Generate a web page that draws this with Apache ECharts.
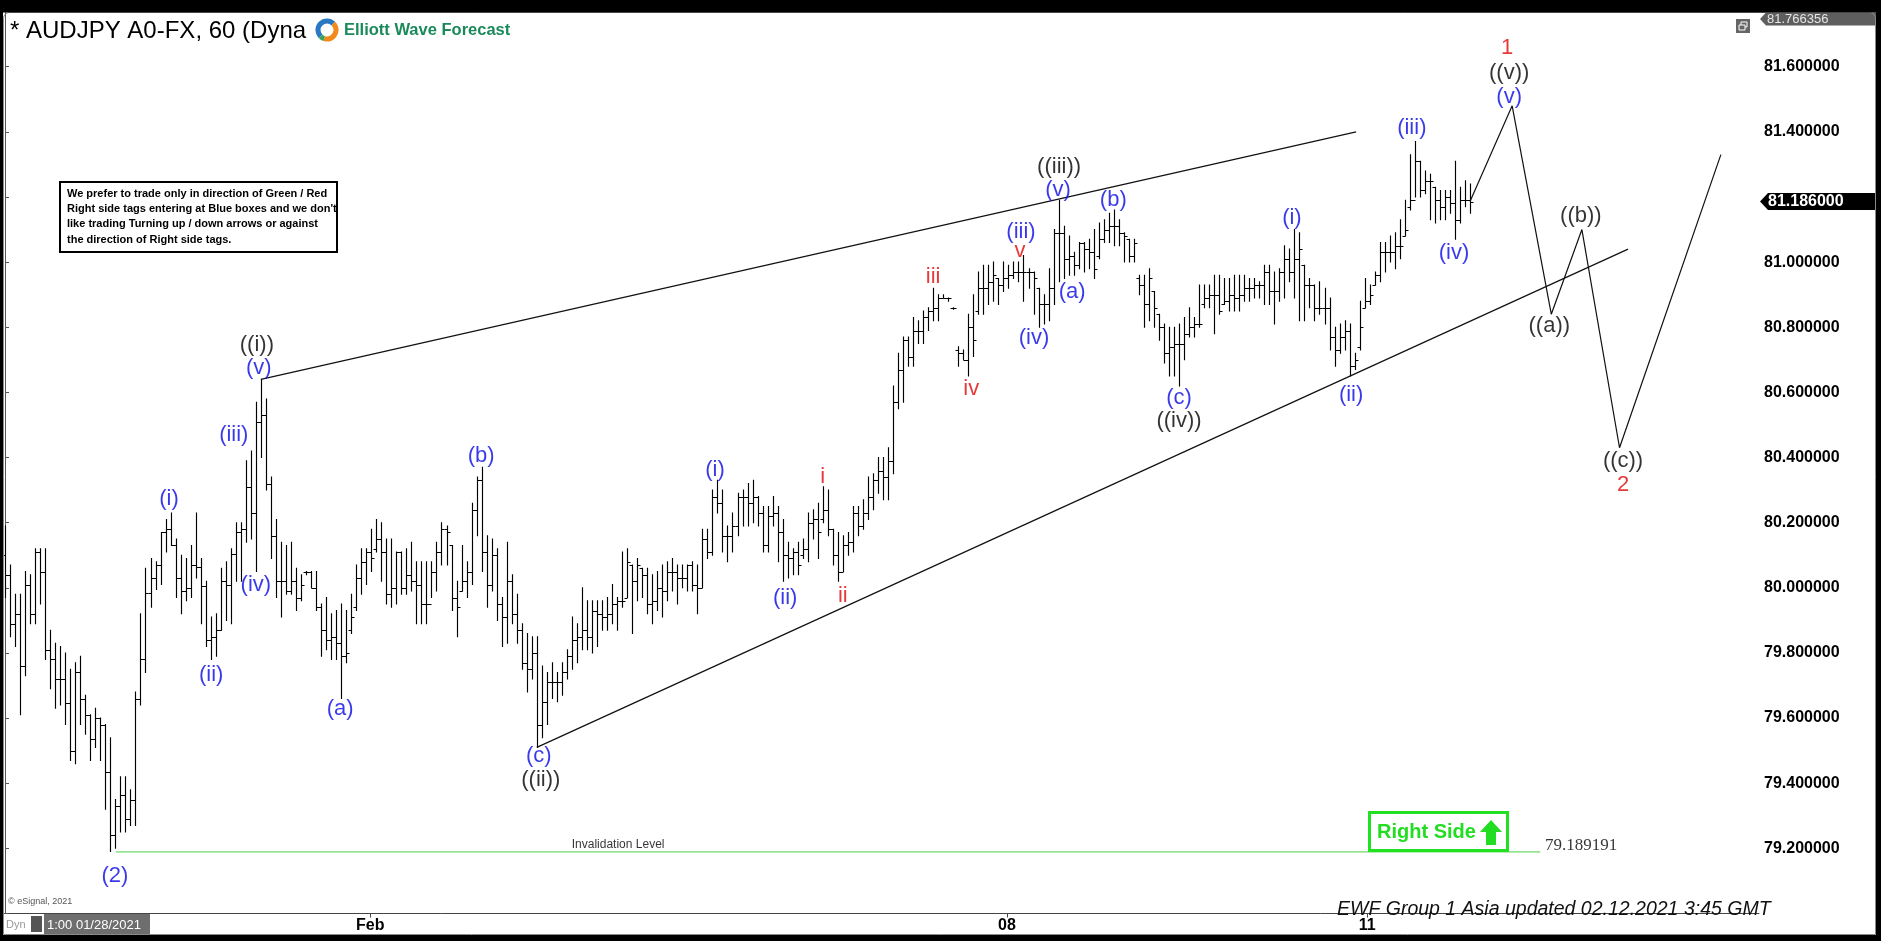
<!DOCTYPE html>
<html><head><meta charset="utf-8">
<script src="https://cdn.jsdelivr.net/npm/echarts@6/dist/echarts.min.js"></script>
<style>html,body{margin:0;padding:0;background:#fff;overflow:hidden}#c{width:1881px;height:941px}</style>
</head><body><div id="c"></div><script>
// ---- OHLC data (hourly bars) ----
const opens = [
80.10,80.04,79.89,79.92,79.76,80.01,79.92,80.11,80.05,79.81,
79.78,79.72,79.72,79.645,79.50,79.74,79.66,79.61,79.535,79.60,
79.58,79.435,79.24,79.33,79.365,79.29,79.35,79.66,79.78,79.985,
80.03,80.07,80.17,80.18,80.13,80.03,79.99,80.00,80.07,80.065,
80.005,79.84,79.85,79.87,80.02,80.01,80.105,80.17,80.18,80.31,
80.23,80.51,80.53,80.32,80.16,80.02,80.02,79.99,80.02,79.97,
80.05,80.05,80.00,79.94,79.87,79.84,79.85,79.83,79.79,79.87,
79.94,80.03,80.08,80.11,80.12,80.15,80.11,79.98,80.00,80.11,
80.00,80.04,80.02,80.01,79.95,79.95,80.05,80.11,80.18,80.13,
79.97,79.99,80.02,80.05,80.24,80.33,80.11,80.01,80.10,79.95,
79.91,80.02,79.92,79.87,79.77,79.75,79.80,79.58,79.65,79.71,
79.71,79.71,79.74,79.79,79.84,79.85,79.87,79.85,79.93,79.92,
79.91,79.92,79.95,79.96,79.97,80.07,80.02,80.06,80.04,79.95,
79.96,80.00,79.99,80.05,80.05,80.03,80.03,80.07,80.01,80.00,
80.15,80.11,80.28,80.26,80.16,80.16,80.19,80.28,80.28,80.26,
80.28,80.23,80.13,80.22,80.23,80.17,80.10,80.09,80.11,80.10,
80.12,80.20,80.21,80.21,80.24,80.18,80.10,80.05,80.13,80.14,
80.23,80.19,80.23,80.28,80.33,80.36,80.34,80.39,80.57,80.67,
80.76,80.71,80.79,80.79,80.83,80.85,80.86,80.89,80.89,80.86,
80.73,80.72,80.70,80.80,80.85,80.92,80.92,80.94,80.95,80.93,
80.95,80.96,80.97,80.97,80.97,80.97,80.92,80.87,80.87,80.92,
81.09,81.09,81.01,81.02,80.99,81.06,81.04,81.03,81.02,81.07,
81.10,81.11,81.11,81.09,81.07,81.02,80.95,80.93,80.87,80.91,
80.84,80.80,80.72,80.74,80.75,80.75,80.78,80.80,80.81,80.87,
80.89,80.90,80.90,80.87,80.88,80.90,80.89,80.90,80.92,80.92,
80.93,80.93,80.97,80.91,80.91,80.97,81.01,80.97,81.01,80.99,
80.93,80.93,80.86,80.86,80.86,80.77,80.73,80.77,80.79,80.68,
80.74,80.86,80.88,80.93,80.96,81.03,81.03,81.03,81.05,81.08,
81.17,81.19,81.31,81.22,81.25,81.23,81.19,81.17,81.20,81.18,
81.13,81.19,81.19];
const highs = [
80.19,80.07,79.98,79.98,80.05,80.04,80.12,80.12,80.12,79.87,
79.83,79.82,79.80,79.75,79.77,79.79,79.67,79.61,79.63,79.60,
79.58,79.54,79.35,79.42,79.42,79.38,79.68,79.92,80.06,80.09,
80.08,80.17,80.21,80.23,80.15,80.10,80.09,80.13,80.23,80.09,
80.02,79.91,79.92,80.06,80.08,80.12,80.20,80.20,80.39,80.42,
80.57,80.64,80.58,80.34,80.21,80.14,80.13,80.14,80.06,80.04,
80.05,80.05,80.05,79.95,79.97,79.92,79.93,79.95,79.93,79.98,
80.07,80.12,80.12,80.18,80.21,80.20,80.15,80.15,80.11,80.11,
80.12,80.14,80.08,80.08,80.08,80.08,80.14,80.20,80.19,80.13,
80.02,80.13,80.08,80.26,80.34,80.37,80.16,80.15,80.12,79.97,
80.14,80.04,79.98,79.89,79.86,79.85,79.85,79.76,79.74,79.77,
79.74,79.77,79.81,79.91,79.89,80.00,79.96,79.96,79.96,79.96,
79.97,80.01,79.97,80.11,80.12,80.07,80.09,80.06,80.06,80.04,
80.05,80.07,80.08,80.09,80.07,80.07,80.07,80.08,80.07,80.18,
80.18,80.30,80.33,80.30,80.19,80.23,80.29,80.30,80.32,80.33,
80.28,80.25,80.25,80.28,80.25,80.21,80.14,80.12,80.14,80.15,
80.23,80.24,80.26,80.31,80.30,80.18,80.17,80.16,80.17,80.25,
80.25,80.27,80.34,80.35,80.40,80.40,80.43,80.62,80.72,80.77,
80.77,80.83,80.82,80.85,80.86,80.92,80.90,80.90,80.89,80.86,
80.74,80.73,80.84,80.90,80.97,80.99,80.99,81.00,80.95,81.00,
80.99,81.00,81.00,81.02,80.98,80.97,80.92,80.90,80.98,81.10,
81.19,81.11,81.08,81.03,81.06,81.06,81.07,81.10,81.12,81.13,
81.15,81.16,81.13,81.09,81.07,81.07,80.96,80.96,80.98,80.91,
80.84,80.81,80.80,80.80,80.81,80.83,80.86,80.83,80.93,80.93,
80.93,80.96,80.96,80.95,80.95,80.96,80.96,80.96,80.95,80.95,
80.94,80.99,80.99,80.97,80.98,81.05,81.04,81.10,81.09,80.99,
80.95,80.93,80.94,80.92,80.89,80.80,80.81,80.82,80.81,80.72,
80.88,80.95,80.93,80.97,81.06,81.06,81.08,81.09,81.13,81.19,
81.33,81.37,81.31,81.28,81.27,81.23,81.22,81.22,81.22,81.31,
81.23,81.25,81.24];
const lows = [
79.97,79.85,79.82,79.61,79.73,79.89,79.89,79.95,79.78,79.69,
79.63,79.64,79.58,79.47,79.46,79.58,79.55,79.47,79.51,79.47,
79.32,79.19,79.20,79.25,79.25,79.27,79.27,79.64,79.74,79.94,
79.995,80.01,80.11,80.13,79.97,79.92,79.96,79.97,80.03,79.89,
79.82,79.78,79.79,79.87,79.90,79.89,80.02,80.02,80.14,80.15,
80.05,80.40,80.30,80.09,79.97,79.91,79.98,79.98,79.93,79.96,
80.04,80.00,79.93,79.79,79.81,79.78,79.78,79.66,79.77,79.86,
79.93,79.98,80.01,80.05,80.11,80.02,79.95,79.94,79.95,79.98,
79.98,79.99,79.89,79.89,79.89,79.97,79.99,80.07,80.07,79.93,
79.85,79.99,79.97,80.01,80.16,80.05,79.94,79.99,79.90,79.82,
79.83,79.89,79.83,79.75,79.68,79.72,79.51,79.54,79.58,79.66,
79.65,79.67,79.72,79.75,79.77,79.81,79.81,79.80,79.82,79.87,
79.87,79.89,79.87,79.94,79.97,79.86,79.96,79.97,79.92,79.89,
79.93,79.91,79.96,79.99,79.95,80.00,79.99,79.99,79.92,80.00,
80.09,80.10,80.23,80.11,80.08,80.11,80.16,80.19,80.19,80.20,
80.19,80.11,80.11,80.19,80.08,80.02,80.03,80.04,80.04,80.09,
80.08,80.15,80.09,80.20,80.16,80.07,80.02,80.05,80.10,80.11,
80.16,80.18,80.21,80.24,80.29,80.27,80.27,80.35,80.55,80.57,
80.68,80.68,80.75,80.75,80.79,80.82,80.82,80.89,80.88,80.855,
80.68,80.70,80.65,80.71,80.84,80.84,80.87,80.88,80.87,80.91,
80.92,80.95,80.94,80.88,80.92,80.84,80.80,80.81,80.82,80.87,
80.94,80.95,80.96,80.96,80.98,80.97,80.98,80.95,81.01,81.06,
81.06,81.05,81.05,81.00,81.00,81.00,80.90,80.80,80.82,80.80,
80.76,80.69,80.65,80.65,80.62,80.70,80.77,80.77,80.80,80.86,
80.86,80.78,80.84,80.87,80.85,80.85,80.85,80.88,80.88,80.89,
80.89,80.87,80.87,80.81,80.88,80.89,80.94,80.89,80.82,80.82,
80.86,80.82,80.84,80.81,80.73,80.68,80.72,80.73,80.65,80.67,
80.73,80.86,80.87,80.93,80.94,80.97,81.00,80.98,81.01,81.08,
81.16,81.20,81.20,81.21,81.13,81.12,81.13,81.13,81.15,81.07,
81.12,81.17,81.15];
const closes = [
80.04,79.89,79.92,79.76,80.01,79.92,80.11,80.05,79.81,79.78,
79.72,79.72,79.645,79.50,79.74,79.66,79.61,79.535,79.60,79.58,
79.435,79.24,79.33,79.365,79.29,79.35,79.66,79.78,79.985,80.03,
80.07,80.17,80.18,80.13,80.03,79.99,80.00,80.07,80.065,80.005,
79.84,79.85,79.87,80.02,80.01,80.105,80.17,80.18,80.31,80.23,
80.51,80.53,80.32,80.16,80.02,80.02,79.99,80.02,79.97,80.01,
80.05,80.00,79.94,79.87,79.84,79.85,79.83,79.79,79.80,79.91,
80.03,80.08,80.11,80.09,80.15,80.11,79.98,80.00,80.11,80.00,
80.04,80.02,80.01,79.95,79.95,80.05,80.11,80.18,80.17,79.97,
79.94,80.02,80.05,80.24,80.33,80.11,80.01,80.10,79.95,79.91,
80.02,79.92,79.87,79.77,79.75,79.80,79.58,79.65,79.71,79.71,
79.71,79.74,79.79,79.84,79.85,79.87,79.85,79.93,79.92,79.91,
79.92,79.95,79.96,79.96,80.08,80.02,80.07,80.04,79.95,79.96,
80.00,79.99,80.05,80.05,80.03,80.03,80.07,80.01,80.00,80.15,
80.11,80.28,80.26,80.16,80.16,80.19,80.28,80.28,80.26,80.28,
80.23,80.13,80.22,80.23,80.17,80.10,80.09,80.11,80.07,80.12,
80.20,80.21,80.17,80.24,80.18,80.10,80.05,80.13,80.14,80.23,
80.19,80.23,80.28,80.33,80.36,80.34,80.39,80.57,80.67,80.76,
80.71,80.79,80.79,80.83,80.85,80.86,80.89,80.89,80.89,80.86,
80.72,80.70,80.80,80.76,80.92,80.92,80.94,80.96,80.93,80.95,
80.96,80.97,80.97,80.97,80.97,80.95,80.87,80.87,80.92,81.09,
81.09,81.01,81.02,80.99,81.06,81.04,81.03,80.98,81.07,81.10,
81.11,81.11,81.09,81.08,81.02,81.06,80.93,80.87,80.95,80.86,
80.80,80.72,80.74,80.75,80.75,80.78,80.80,80.81,80.81,80.89,
80.90,80.90,80.85,80.88,80.90,80.89,80.90,80.92,80.92,80.93,
80.93,80.97,80.91,80.91,80.97,81.01,80.97,81.01,81.04,80.93,
80.93,80.86,80.86,80.86,80.77,80.73,80.77,80.79,80.68,80.70,
80.80,80.88,80.90,80.96,81.03,81.03,81.03,81.05,81.05,81.10,
81.19,81.31,81.22,81.25,81.25,81.19,81.17,81.20,81.18,81.13,
81.19,81.19,81.186];

// ---- axes ----
const priceMin = 79.0, priceMax = 81.8, priceStep = 0.2;
const topPrice = 81.766356;
const lastPrice = 81.186;
const dateTickIdx = [72.8, 199.7, 271.5];
const dateTickText = ['Feb', '08', '11'];

// ---- drawn lines (bar index, price) ----
const upperWedge = [[51, 80.64], [269.3, 81.40]];
const lowerWedge = [[106, 79.51], [323.5, 81.04]];
const projection = [[292, 81.186], [300.4, 81.48], [308.2, 80.84], [314.3, 81.10], [321.8, 80.43], [342.0, 81.33]];
const invalidationLevel = 79.189191;
const invalidationSpan = [22.1, 306.0];

// ---- wave labels (bar index, price, text, colour key) ----
const waveLabels = [
 [50.2, 80.745, '((i))', 'k'], [50.6, 80.675, '(v)', 'b'], [45.6, 80.469, '(iii)', 'b'],
 [32.7, 80.273, '(i)', 'b'], [41.1, 79.733, '(ii)', 'b'], [50.0, 80.009, '(iv)', 'b'],
 [21.9, 79.115, '(2)', 'b'], [66.8, 79.628, '(a)', 'b'], [94.9, 80.405, '(b)', 'b'],
 [106.4, 79.485, '(c)', 'b'], [106.8, 79.411, '((ii))', 'k'], [141.5, 80.362, '(i)', 'b'],
 [155.5, 79.970, '(ii)', 'b'], [163.0, 80.341, 'i', 'r'], [167.0, 79.975, 'ii', 'r'],
 [185.0, 80.954, 'iii', 'r'], [192.6, 80.610, 'iv', 'r'], [202.3, 81.035, 'v', 'r'],
 [202.5, 81.092, '(iii)', 'b'], [205.1, 80.767, '(iv)', 'b'], [210.1, 81.292, '((iii))', 'k'],
 [209.9, 81.221, '(v)', 'b'], [212.7, 80.908, '(a)', 'b'], [220.9, 81.191, '(b)', 'b'],
 [234.0, 80.583, '(c)', 'b'], [234.0, 80.513, '((iv))', 'k'], [256.5, 81.135, '(i)', 'b'],
 [268.3, 80.592, '(ii)', 'b'], [280.4, 81.412, '(iii)', 'b'], [288.8, 81.028, '(iv)', 'b'],
 [299.4, 81.657, '1', 'r'], [299.8, 81.581, '((v))', 'k'], [299.8, 81.507, '(v)', 'b'],
 [307.8, 80.803, '((a))', 'k'], [314.1, 81.141, '((b))', 'k'], [322.5, 80.389, '((c))', 'k'],
 [322.5, 80.316, '2', 'r']
];
const notes = [
 [122.2, 79.210, 'Invalidation Level', 'center', 12, 'Arial, "Liberation Sans", sans-serif'],
 [306.95, 79.210, '79.189191', 'left', 17, '"Times New Roman", "Liberation Serif", serif']
];
const noticeLines = [
 'We prefer to trade only in direction of Green / Red',
 "Right side tags entering at Blue boxes and we don't",
 'like trading Turning up / down arrows or against',
 'the direction of Right side tags.'
];

const COLORS = {b: '#0808e6', k: '#000000', r: '#e00808'};
const FONT = 'Arial, "Liberation Sans", sans-serif';

const ohlc = opens.map((o, i) => [i, o, highs[i], lows[i], closes[i]]);

const chart = echarts.init(document.getElementById('c'), null, {renderer: 'canvas'});

const option = {
  animation: false,
  backgroundColor: '#ffffff',
  grid: {left: 3, right: 122, top: 1.56, bottom: 27.5, containLabel: false, outerBoundsMode: 'none'},
  xAxis: {
    type: 'value', min: -0.4, max: 349.6,
    splitLine: {show: false},
    axisLine: {show: true, lineStyle: {color: '#444', width: 1}},
    axisTick: {show: true, customValues: dateTickIdx, length: 4, lineStyle: {color: '#444'}},
    axisLabel: {
      show: true, customValues: dateTickIdx, margin: 4,
      fontFamily: '"Liberation Sans Narrow", "Arial Narrow", ' + FONT, fontWeight: 'bold', fontSize: 16, color: '#000',
      formatter: v => { const k = dateTickIdx.findIndex(d => Math.abs(d - v) < 1e-6); return k >= 0 ? dateTickText[k] : ''; }
    }
  },
  yAxis: {
    type: 'value', position: 'right', min: priceMin, max: priceMax, interval: priceStep,
    scale: true,
    splitLine: {show: false},
    axisLine: {show: true, lineStyle: {color: '#555', width: 1}},
    axisTick: {show: true, length: 4, lineStyle: {color: '#555'}},
    axisLabel: {
      margin: 5, fontFamily: FONT, fontWeight: 'bold', fontSize: 16, color: '#000',
      formatter: v => (v < 79.1 || v > 81.7 || Math.abs(v - 81.2) < 1e-6) ? '' : v.toFixed(6)
    }
  },
  series: [
    {
      type: 'custom', name: 'AUDJPY', data: ohlc, encode: {x: 0, y: [1, 2, 3, 4]},
      silent: true, clip: true,
      renderItem: (params, api) => {
        const x = api.value(0);
        const pH = api.coord([x, api.value(2)]);
        const pL = api.coord([x, api.value(3)]);
        const pO = api.coord([x, api.value(1)]);
        const pC = api.coord([x, api.value(4)]);
        const px = Math.round(pH[0]) + 0.5;
        const st = {stroke: '#000', lineWidth: 1.15};
        const yO = Math.round(pO[1]) + 0.5, yC = Math.round(pC[1]) + 0.5;
        return {type: 'group', children: [
          {type: 'line', shape: {x1: px, y1: pH[1] - 0.5, x2: px, y2: pL[1] + 0.5}, style: st},
          {type: 'line', shape: {x1: px - 3, y1: yO, x2: px, y2: yO}, style: st},
          {type: 'line', shape: {x1: px, y1: yC, x2: px + 3, y2: yC}, style: st}
        ]};
      }
    },
    {type: 'line', data: upperWedge, showSymbol: false, silent: true, lineStyle: {color: '#111', width: 1.2}},
    {type: 'line', data: lowerWedge, showSymbol: false, silent: true, lineStyle: {color: '#111', width: 1.2}},
    {type: 'line', data: projection, showSymbol: false, silent: true, lineStyle: {color: '#111', width: 1.2}},
    {type: 'line', data: invalidationSpan.map(x => [x, invalidationLevel]), showSymbol: false, silent: true,
     lineStyle: {color: '#6fdc6f', width: 1.3}},
    {
      type: 'scatter', symbolSize: 0, silent: true, z: 5,
      data: waveLabels.map(w => ({value: [w[0], w[1]], label: {formatter: w[2], color: COLORS[w[3]]}})),
      label: {show: true, position: 'inside', fontFamily: FONT, fontSize: 22}
    },
    {
      type: 'scatter', symbolSize: 0, silent: true, z: 5,
      data: notes.map(n => ({value: [n[0], n[1]], label: {formatter: n[2], align: n[3], fontSize: n[4], fontFamily: n[5]}})),
      label: {show: true, position: 'inside', color: '#000'}
    }
  ]
};
chart.setOption(option);

const yLast = chart.convertToPixel({yAxisIndex: 0}, lastPrice);
const yTop = chart.convertToPixel({yAxisIndex: 0}, topPrice);

const g = [];
// notice box
g.push({type: 'rect', shape: {x: 60, y: 182, width: 277, height: 70}, style: {fill: '#fff', stroke: '#000', lineWidth: 2}, z: 20});
noticeLines.forEach((t, i) => g.push({type: 'text', x: 67, y: 194 + i * 15.2, z: 21,
  style: {text: t, font: 'bold 11px ' + FONT, fill: '#000', verticalAlign: 'middle'}}));
// Right Side tag
g.push({type: 'rect', shape: {x: 1369.5, y: 812.5, width: 138, height: 38}, style: {fill: '#fff', stroke: '#22e022', lineWidth: 3}, z: 20});
g.push({type: 'text', x: 1377, y: 832, z: 21, style: {text: 'Right Side', font: 'bold 20px ' + FONT, fill: '#22dd22', verticalAlign: 'middle'}});
g.push({type: 'polygon', z: 21, shape: {points: [[1491, 820], [1502, 832], [1496, 832], [1496, 845], [1486, 845], [1486, 832], [1480, 832]]}, style: {fill: '#22dd22'}});
// title + logo
g.push({type: 'text', x: 10, y: 31, z: 30, style: {text: '* AUDJPY A0-FX, 60 (Dyna', font: '24px ' + FONT, fill: '#000', verticalAlign: 'middle'}});
g.push({type: 'arc', z: 31, shape: {cx: 327, cy: 30, r: 9, startAngle: Math.PI * 0.75, endAngle: Math.PI * 1.75}, style: {stroke: '#2a78c2', lineWidth: 5, fill: null}});
g.push({type: 'arc', z: 31, shape: {cx: 327, cy: 30, r: 9, startAngle: -Math.PI * 0.25, endAngle: Math.PI * 0.6}, style: {stroke: '#f28a1b', lineWidth: 5, fill: null}});
g.push({type: 'arc', z: 31, shape: {cx: 327, cy: 30, r: 9, startAngle: Math.PI * 0.6, endAngle: Math.PI * 0.75}, style: {stroke: '#3aa55a', lineWidth: 5, fill: null}});
g.push({type: 'text', x: 344, y: 30, z: 31, style: {text: 'Elliott Wave Forecast', font: 'bold 16.5px ' + FONT, fill: '#1b8a5a', verticalAlign: 'middle'}});
// bottom strip texts
g.push({type: 'text', x: 8, y: 902, z: 30, style: {text: '© eSignal, 2021', font: '9px ' + FONT, fill: '#555', verticalAlign: 'middle'}});
g.push({type: 'text', x: 6, y: 925, z: 30, style: {text: 'Dyn', font: '11px ' + FONT, fill: '#999', verticalAlign: 'middle'}});
g.push({type: 'rect', z: 30, shape: {x: 31, y: 916, width: 11, height: 16}, style: {fill: '#555'}});
g.push({type: 'rect', z: 30, shape: {x: 44, y: 914, width: 106, height: 21}, style: {fill: '#6e6e6e'}});
g.push({type: 'text', x: 47, y: 925, z: 31, style: {text: '1:00 01/28/2021', font: '13px "Liberation Sans Narrow", "Arial Narrow", ' + FONT, fill: '#fff', verticalAlign: 'middle'}});
g.push({type: 'text', x: 1337, y: 910, z: 30, style: {text: 'EWF Group 1 Asia updated 02.12.2021 3:45 GMT', font: 'italic 19.5px ' + FONT, fill: '#111',
  textShadowColor: '#9a9a9a', textShadowOffsetX: 1, textShadowOffsetY: 1, textShadowBlur: 0, verticalAlign: 'middle'}});
// top-right icon
g.push({type: 'rect', z: 30, shape: {x: 1736, y: 19, width: 14, height: 14}, style: {fill: '#666'}});
g.push({type: 'rect', z: 31, shape: {x: 1741, y: 22, width: 6, height: 5}, style: {fill: null, stroke: '#fff', lineWidth: 1}});
g.push({type: 'rect', z: 31, shape: {x: 1739, y: 25, width: 6, height: 5}, style: {fill: '#666', stroke: '#fff', lineWidth: 1}});
// price tags
g.push({type: 'polygon', z: 40, shape: {points: [[1760, yTop + 6.5], [1766, yTop], [1876, yTop], [1876, yTop + 13], [1766, yTop + 13]]}, style: {fill: '#5e5e5e'}});
g.push({type: 'text', x: 1767, y: yTop + 6.8, z: 41, style: {text: topPrice.toFixed(6), font: '13px ' + FONT, fill: '#e6e6e6', verticalAlign: 'middle'}});
g.push({type: 'polygon', z: 40, shape: {points: [[1760, yLast], [1768, yLast - 8.5], [1876, yLast - 8.5], [1876, yLast + 8.5], [1768, yLast + 8.5]]}, style: {fill: '#000'}});
g.push({type: 'text', x: 1768, y: yLast + 0.5, z: 41, style: {text: lastPrice.toFixed(6), font: 'bold 16px ' + FONT, fill: '#fff', verticalAlign: 'middle'}});
// window frame
g.push({type: 'rect', z: 100, shape: {x: 0, y: 0, width: 1881, height: 12.5}, style: {fill: '#000'}});
g.push({type: 'rect', z: 100, shape: {x: 0, y: 0, width: 3, height: 941}, style: {fill: '#000'}});
g.push({type: 'rect', z: 100, shape: {x: 1876, y: 0, width: 5, height: 941}, style: {fill: '#000'}});
g.push({type: 'rect', z: 100, shape: {x: 0, y: 935, width: 1881, height: 6}, style: {fill: '#000'}});
g.push({type: 'rect', z: 99, shape: {x: 3.5, y: 12.5, width: 1872, height: 922, r: [6, 6, 0, 0]}, style: {fill: null, stroke: '#8a8a8a', lineWidth: 1}});

chart.setOption({graphic: g});
</script></body></html>
